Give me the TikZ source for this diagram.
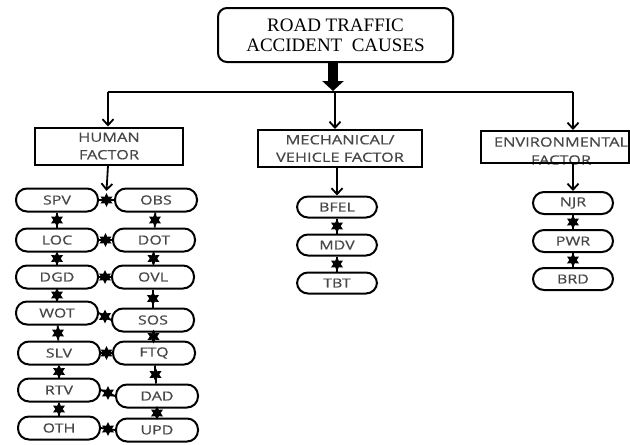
\documentclass[tikz,border=0pt]{standalone}
\usepackage{fontspec}
\setmainfont{Liberation Serif}
\newfontfamily\sansf[FakeStretch=1.28,FakeBold=0.6]{Open Sans}
\usetikzlibrary{arrows.meta,shapes.geometric}
\begin{document}
\begin{tikzpicture}[x=1pt,y=-1pt,
  topbox/.style={draw,line width=2pt,rounded corners=9pt,minimum width=235pt,minimum height=54pt,align=center,font=\fontsize{19}{20}\selectfont,inner sep=0pt},
  facbox/.style={draw,line width=2pt,minimum height=37pt,align=center,font=\sansf\fontsize{12.8}{17.5}\selectfont,text=black!72,inner sep=0pt},
  pill/.style={draw,line width=2pt,rounded corners=11pt,minimum width=82pt,minimum height=23pt,font=\sansf\fontsize{12.5}{12}\selectfont,text=black!72,inner sep=0pt},
  starn/.style={star,star points=6,star point ratio=1.9,minimum size=14pt,inner sep=0pt,fill=black,draw=none},
  link/.style={line width=1.8pt},
  arr/.style={line width=1.8pt,-{Straight Barb[length=6pt,width=11pt,line width=1.8pt]}},
]
\useasboundingbox (0,0) rectangle (630,445);
% top
\node[topbox] (top) at (335.5,35) {ROAD TRAFFIC\\ACCIDENT\ \ CAUSES};
\coordinate (hL) at (108,92);
\coordinate (hM) at (335,92);
\coordinate (hR) at (573,92);
\draw[line width=10pt,-{Triangle[length=10pt,width=21pt]}] (top.south -| 333,0) -- (333,91);
\draw[line width=2pt] (hL) -- (hR);
% factor boxes
\node[facbox,minimum width=148pt] (human) at (109,146) {HUMAN\\FACTOR};
\node[facbox,minimum width=164pt] (mech) at (340,148.5) {MECHANICAL/\\VEHICLE FACTOR};
\node[font=\sansf\fontsize{12.8}{18}\selectfont,text=black!72,align=center,inner sep=0pt] (envlabel) at (561,151) {ENVIRONMENTAL\\FACTOR};
\node[draw,line width=2pt,minimum width=148pt,minimum height=32pt,inner sep=0pt] (env) at (555,147) {};
\draw[arr] (hL) -- (hL |- human.north);
\draw[arr] (hM) -- (hM |- mech.north);
\draw[arr] (hR) -- (hR |- env.north);
% human pills
\node[pill] (spv) at (57,200) {SPV};
\node[pill] (loc) at (57,240) {LOC};
\node[pill] (dgd) at (57,277) {DGD};
\node[pill] (wot) at (57,313) {WOT};
\node[pill] (slv) at (59,353) {SLV};
\node[pill] (rtv) at (59,390) {RTV};
\node[pill] (oth) at (59,428) {OTH};
\node[pill] (obs) at (156,200) {OBS};
\node[pill] (dot) at (154,240) {DOT};
\node[pill] (ovl) at (153,277) {OVL};
\node[pill] (sos) at (153,320) {SOS};
\node[pill] (ftq) at (154,353) {FTQ};
\node[pill] (dad) at (157,396) {DAD};
\node[pill] (upd) at (157,430) {UPD};
\draw[link] (spv.east) -- node[starn] (s1) {} (obs.west);
\draw[link] (loc.east) -- node[starn] {} (dot.west);
\draw[link] (dgd.east) -- node[starn] {} (ovl.west);
\draw[link] (wot.east) -- node[starn] {} (sos.west);
\draw[link] (slv.east) -- node[starn] {} (ftq.west);
\draw[link] (rtv.east) -- node[starn] {} (dad.west);
\draw[link] (oth.east) -- node[starn] {} (upd.west);
\draw[link] (spv) -- node[starn] {} (loc);
\draw[link] (loc) -- node[starn] {} (dgd);
\draw[link] (dgd) -- node[starn] {} (wot);
\draw[link] (wot) -- node[starn] {} (slv);
\draw[link] (slv) -- node[starn] {} (rtv);
\draw[link] (rtv) -- node[starn] {} (oth);
\draw[link] (obs) -- node[starn] {} (dot);
\draw[link] (dot) -- node[starn] {} (ovl);
\draw[link] (ovl) -- node[starn] {} (sos);
\draw[link] (sos) -- node[starn] {} (ftq);
\draw[link] (ftq) -- node[starn] {} (dad);
\draw[link] (dad) -- node[starn] {} (upd);
\draw[arr] (human.south -| hL) -- (s1.north);
% mechanical pills
\node[pill,minimum width=80pt,minimum height=21pt] (bfel) at (337,207) {BFEL};
\node[pill,minimum width=80pt,minimum height=21pt] (mdv) at (337,245) {MDV};
\node[pill,minimum width=80pt,minimum height=21pt] (tbt) at (337,283) {TBT};
\draw[arr] (mech.south -| bfel) -- (bfel.north);
\draw[link] (bfel) -- node[starn] {} (mdv);
\draw[link] (mdv) -- node[starn] {} (tbt);
% environmental pills
\node[pill,minimum width=80pt,minimum height=22pt] (njr) at (573,203) {NJR};
\node[pill,minimum width=80pt,minimum height=22pt] (pwr) at (573,241) {PWR};
\node[pill,minimum width=80pt,minimum height=22pt] (brd) at (573,279) {BRD};
\draw[arr] (env.south -| njr) -- (njr.north);
\draw[link] (njr) -- node[starn] {} (pwr);
\draw[link] (pwr) -- node[starn] {} (brd);
\end{tikzpicture}
\end{document}
